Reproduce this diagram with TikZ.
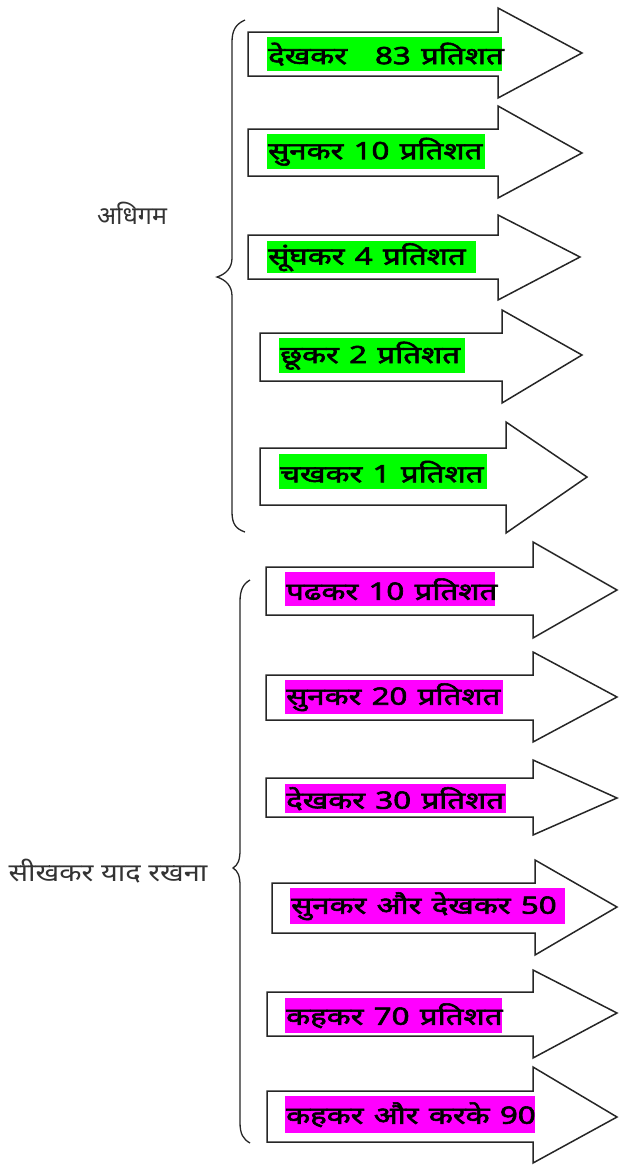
\documentclass[tikz,border=0pt]{standalone}
\usepackage{fontspec}
\newfontfamily\dev[Script=Devanagari]{Noto Sans}
\newfontfamily\devbold[Script=Devanagari,FakeBold=2.2]{Noto Sans}
\definecolor{hlgreen}{RGB}{0,255,0}
\definecolor{hlmagenta}{RGB}{255,0,255}
\begin{document}
\begin{tikzpicture}[x=1pt,y=-1pt,
  arrowline/.style={draw=black!85, line width=1.5pt, line join=miter, fill=white},
  hlg/.style={fill=hlgreen, inner sep=0pt, anchor=north west, align=left,
              font=\devbold\fontsize{24}{26}\selectfont},
  hlm/.style={fill=hlmagenta, inner sep=0pt, anchor=north west, align=left,
              font=\devbold\fontsize{24}{26}\selectfont},
  lbl/.style={font=\dev\fontsize{25}{28}\selectfont, text=black!80},
  bracepath/.style={draw=black!85, line width=1.3pt}]
\useasboundingbox (0,0) rectangle (619,1165);
% block arrow: left, shaft top, shaft bottom, head base x, head top, head bottom, tip x, tip y
\newcommand\fatarrow[8]{\draw[arrowline] (#1,#2) -- (#4,#2) -- (#4,#5) -- (#7,#8) -- (#4,#6) -- (#4,#3) -- (#1,#3) -- cycle;}
% highlighted caption: name, style, x, y, width, height, text
\newcommand\hltext[7]{\node[#2, minimum width=#5pt, minimum height=#6pt, text width=#5pt] (#1) at (#3,#4) {\hspace*{1pt}\scalebox{1.3}[1]{#7}};}

% upper group
\fatarrow{248}{32}{76}{498}{8}{98}{582}{53}
\fatarrow{248}{129}{176}{498}{106}{198}{582}{153}
\fatarrow{248}{235}{279}{498}{215}{300}{580}{257}
\fatarrow{260}{333}{381}{502}{310}{403}{582}{355}
\fatarrow{260}{448}{505}{506}{422}{533}{587}{477}
\hltext{g1}{hlg}{267}{37}{235}{34}{देखकर\hspace{0.9em}83 प्रतिशत}
\hltext{g2}{hlg}{267}{134}{218}{35}{सुनकर 10 प्रतिशत}
\hltext{g3}{hlg}{267}{241}{209}{32}{सूंघकर 4 प्रतिशत}
\hltext{g4}{hlg}{279}{338}{186}{35}{छूकर 2 प्रतिशत}
\hltext{g5}{hlg}{279}{454}{208}{35}{चखकर 1 प्रतिशत}

% lower group
\fatarrow{266}{567}{615}{533}{542}{638}{617}{590}
\fatarrow{266}{675}{720}{533}{652}{742}{617}{697}
\fatarrow{266}{778}{817}{533}{760}{835}{617}{798}
\fatarrow{272}{883}{933}{535}{860}{955}{617}{907}
\fatarrow{267}{992}{1036}{533}{970}{1058}{617}{1013}
\fatarrow{267}{1091}{1142}{533}{1067}{1163}{617}{1117}
\hltext{m1}{hlm}{285}{572}{210}{34}{पढकर 10 प्रतिशत}
\hltext{m2}{hlm}{285}{680}{218}{34}{सुनकर 20 प्रतिशत}
\hltext{m3}{hlm}{285}{784}{221}{29}{देखकर 30 प्रतिशत}
\hltext{m4}{hlm}{290}{888}{275}{36}{सुनकर और देखकर 50}
\hltext{m5}{hlm}{285}{998}{217}{35}{कहकर 70 प्रतिशत}
\hltext{m6}{hlm}{285}{1096}{250}{37}{कहकर और करके 90}

% braces and group labels
\draw[bracepath] (245,20) .. controls (236,24) and (232,30) .. (232,42) -- (232,258)
  .. controls (232,268) and (226,274) .. (217,277) .. controls (226,280) and (232,286) .. (232,296)
  -- (232,512) .. controls (232,524) and (236,529) .. (245,532);
\draw[bracepath] (250,580) .. controls (243,584) and (240,590) .. (240,602) -- (240,850)
  .. controls (240,860) and (238,865) .. (233,868) .. controls (238,871) and (240,876) .. (240,886)
  -- (240,1122) .. controls (240,1134) and (243,1139) .. (250,1143);
\node[lbl] (adhigam) at (132,213) {अधिगम};
\node[lbl] (yaad) at (108,871) {\scalebox{1.16}[1]{सीखकर याद रखना}};
\end{tikzpicture}
\end{document}
